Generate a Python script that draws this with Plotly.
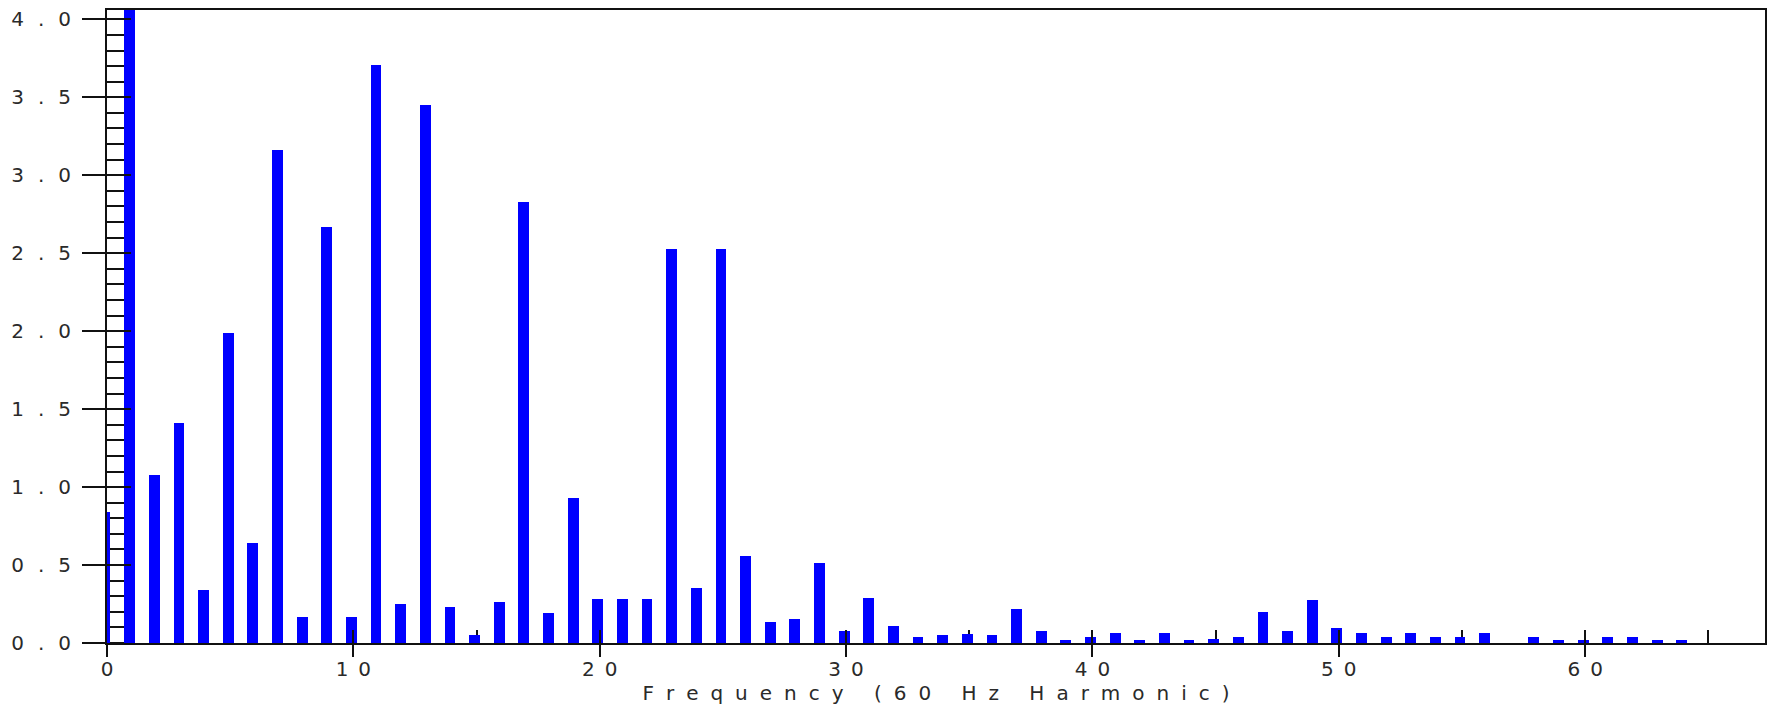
import plotly.graph_objects as go

# Harmonic spectrum: harmonic order (multiples of 60 Hz) and magnitude
harmonics = list(range(0, 65))
magnitudes = [
    0.84, 4.10, 1.08, 1.41, 0.34, 1.99, 0.64, 3.165, 0.17, 2.67,
    0.17, 3.71, 0.25, 3.45, 0.23, 0.05, 0.26, 2.83, 0.19, 0.93,
    0.28, 0.28, 0.28, 2.53, 0.35, 2.53, 0.56, 0.135, 0.155, 0.51,
    0.08, 0.29, 0.11, 0.04, 0.05, 0.06, 0.05, 0.215, 0.08, 0.02,
    0.04, 0.065, 0.02, 0.065, 0.02, 0.025, 0.04, 0.20, 0.08, 0.275,
    0.095, 0.065, 0.04, 0.065, 0.04, 0.04, 0.065, 0.0, 0.04, 0.02,
    0.02, 0.04, 0.04, 0.02, 0.02,
]

x_ticks = [0, 10, 20, 30, 40, 50, 60]
y_ticks = [0.0, 0.5, 1.0, 1.5, 2.0, 2.5, 3.0, 3.5, 4.0]

EN = "\u2002"    # en space
THIN = "\u2009"  # thin space
HAIR = "\u200a"  # hair space


def spread(s, gap):
    return gap.join(list(s))


x_ticktext = [spread(str(v), EN) for v in x_ticks]
y_ticktext = [spread(f"{v:.1f}", EN + THIN) for v in y_ticks]
x_title = spread("Frequency (60 Hz Harmonic)", EN + HAIR)

X_RANGE = [0, 67.3]
Y_RANGE = [0, 4.06]
INK = "#111111"
FONT = dict(family="DejaVu Sans", size=20, color="#2a2a2a")

fig = go.Figure()
fig.add_trace(go.Bar(
    x=harmonics, y=magnitudes,
    width=0.44, offset=-0.3,
    marker=dict(color="#0000ff", line=dict(width=0)),
    hoverinfo="x+y",
))
# empty trace so the overlay axes get drawn
fig.add_trace(go.Scatter(x=[None], y=[None], xaxis="x2", yaxis="y2",
                         showlegend=False, hoverinfo="skip"))

fig.update_layout(
    width=1769, height=709,
    margin=dict(l=107, r=2, t=10, b=66),
    paper_bgcolor="white", plot_bgcolor="white",
    showlegend=False,
    bargap=0,
    xaxis=dict(
        range=X_RANGE, showgrid=False, zeroline=False, showline=False,
        tickmode="array", tickvals=x_ticks, ticktext=x_ticktext,
        ticks="outside", ticklen=13, tickwidth=2, tickcolor=INK,
        tickfont=FONT, ticklabelstandoff=-5,
        minor=dict(tickmode="linear", tick0=0, dtick=5, ticks="inside",
                   ticklen=13, tickwidth=1.6, tickcolor=INK, showgrid=False),
        layer="below traces",
        title=dict(text=x_title, font=FONT, standoff=2),
    ),
    yaxis=dict(
        range=Y_RANGE, showgrid=False, zeroline=False, showline=False,
        tickmode="array", tickvals=y_ticks, ticktext=y_ticktext,
        ticks="outside", ticklen=24, tickwidth=2, tickcolor=INK,
        tickfont=FONT, ticklabelstandoff=7,
        minor=dict(tickmode="linear", tick0=0, dtick=0.1, ticks="inside",
                   ticklen=17, tickwidth=1.6, tickcolor=INK, showgrid=False),
        layer="below traces",
    ),
    xaxis2=dict(
        overlaying="x", anchor="y", side="bottom", range=X_RANGE,
        showgrid=False, zeroline=False,
        showline=True, linewidth=2, linecolor=INK, mirror=True,
        tickmode="array", tickvals=x_ticks, showticklabels=False,
        ticks="inside", ticklen=13, tickwidth=2, tickcolor=INK,
        layer="above traces",
    ),
    yaxis2=dict(
        overlaying="y", anchor="x", side="left", range=Y_RANGE,
        showgrid=False, zeroline=False,
        showline=True, linewidth=2, linecolor=INK, mirror=True,
        tickmode="array", tickvals=y_ticks, showticklabels=False,
        ticks="inside", ticklen=24, tickwidth=2, tickcolor=INK,
        layer="above traces",
    ),
)

fig.write_html("out.html")
